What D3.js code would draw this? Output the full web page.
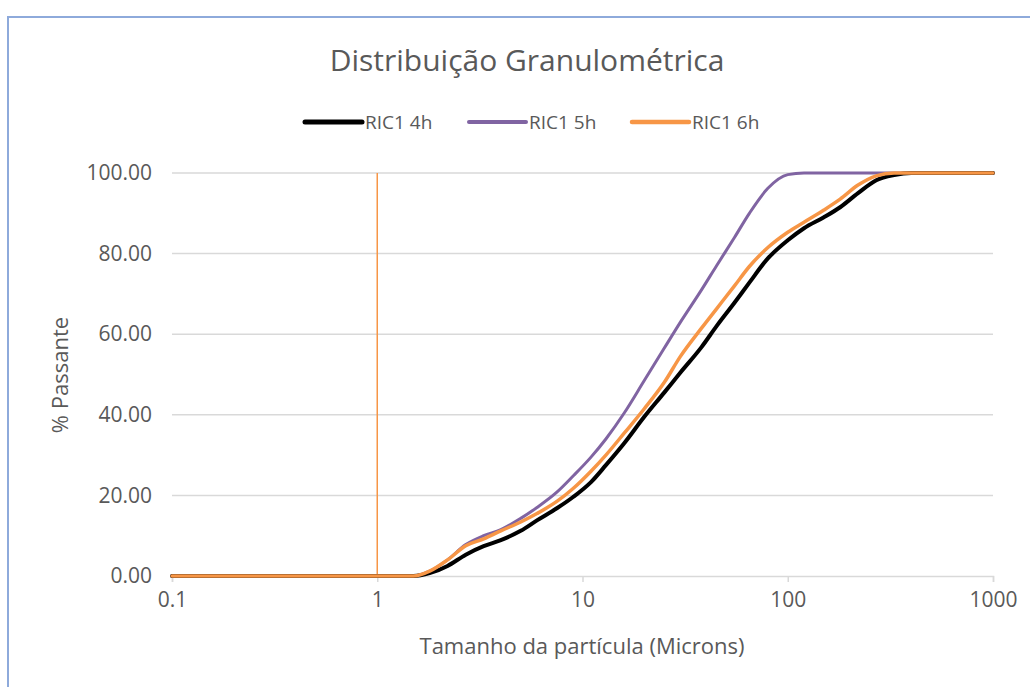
<!DOCTYPE html>
<html>
<head>
<meta charset="utf-8">
<script src="https://cdn.jsdelivr.net/npm/d3@7/dist/d3.min.js"></script>
<style>
  html, body { margin: 0; padding: 0; background: #fff; }
  svg { display: block; font-family: "Open Sans", "Noto Sans", sans-serif; }
</style>
</head>
<body>
<svg id="chart" width="1030" height="687"></svg>
<script>
// Particle size (microns) at which the cumulative passing curves are sampled
const sizes = [0.1, 0.2, 0.5, 1, 1.5, 1.8, 2.2, 2.7, 3.3, 4, 5, 6, 7.5, 9, 11, 13, 16, 20, 25, 30,
               38, 45, 55, 65, 80, 100, 120, 150, 180, 220, 270, 330, 400, 600, 1000];

// % passing for each sample
const ric1_4h = [0, 0, 0, 0, 0, 0.7, 2.5, 5.3, 7.4, 8.9, 11.2, 13.8, 16.8, 19.6, 23.3, 27.5, 33, 39.5, 45.5, 50.5,
                 56.8, 62, 67.8, 72.8, 78.8, 83.3, 86.3, 89, 91.5, 95, 98.2, 99.5, 100, 100, 100];
const ric1_5h = [0, 0, 0, 0, 0, 1.2, 4, 7.8, 10, 11.5, 14.3, 17, 20.8, 24.8, 29.5, 34, 40.5, 48.5, 56.5, 63,
                 71, 77, 84, 90, 96.2, 99.6, 100, 100, 100, 100, 100, 100, 100, 100, 100];
const ric1_6h = [0, 0, 0, 0, 0, 1.2, 4, 7.5, 9.2, 11.2, 13.4, 15.5, 18.5, 21.7, 26, 30, 35.5, 41.5, 48, 54.5,
                 61.5, 66.3, 72, 76.8, 81.5, 85.3, 87.8, 90.8, 93.5, 97, 99.3, 100, 100, 100, 100];

// Reference marker at 1 micron
const markerX = [1, 1];
const markerY = [0, 100];

const seriesNames = ["RIC1 4h", "RIC1 5h", "RIC1 6h"];
const seriesColors = ["#000000", "#8064A2", "#F79646"];
const seriesWidths = [4, 3, 3.5];

const xTicks = [0.1, 1, 10, 100, 1000];
const xTickLabels = ["0.1", "1", "10", "100", "1000"];
const yTicks = [0, 20, 40, 60, 80, 100];

const svg = d3.select("#chart");
const textColor = "#595959";
const gridColor = "#d9d9d9";

// Chart frame
svg.append("rect")
  .attr("x", 8).attr("y", 17)
  .attr("width", 1040).attr("height", 700)
  .attr("fill", "#fff")
  .attr("stroke", "#8eaadb").attr("stroke-width", 2);

const plotLeft = 172, plotRight = 993, plotTop = 173, plotBottom = 576;

const x = d3.scaleLog().domain([0.1, 1000]).range([plotLeft, plotRight]);
const y = d3.scaleLinear().domain([0, 100]).range([plotBottom, plotTop]);

// Horizontal gridlines
svg.append("g")
  .selectAll("line")
  .data(yTicks.filter(d => d > 0))
  .join("line")
  .attr("x1", plotLeft).attr("x2", plotRight)
  .attr("y1", d => y(d)).attr("y2", d => y(d))
  .attr("stroke", gridColor).attr("stroke-width", 1.5);

// Y axis labels
const yAxis = d3.axisLeft(y).tickValues(yTicks).tickFormat(d3.format(".2f")).tickSize(0).tickPadding(20);
const gy = svg.append("g").attr("transform", `translate(${plotLeft},0)`).call(yAxis);
gy.select(".domain").remove();
gy.selectAll("text")
  .attr("fill", textColor)
  .style("font-size", "21px")
  .style("font-family", "'Open Sans', sans-serif");

// X axis
const xAxis = d3.axisBottom(x).tickValues(xTicks)
  .tickFormat((d, i) => xTickLabels[i]).tickSize(6).tickPadding(10);
const gx = svg.append("g").attr("transform", `translate(0,${plotBottom})`).call(xAxis);
gx.select(".domain").attr("stroke", gridColor).attr("stroke-width", 1.5);
gx.selectAll(".tick line").attr("stroke", gridColor).attr("stroke-width", 1.5);
gx.selectAll("text")
  .attr("fill", textColor)
  .style("font-size", "21px")
  .style("font-family", "'Open Sans', sans-serif");

// Vertical marker at 1 micron
svg.append("line")
  .attr("x1", x(markerX[0])).attr("x2", x(markerX[1]))
  .attr("y1", y(markerY[0])).attr("y2", y(markerY[1]))
  .attr("stroke", "#F79646").attr("stroke-width", 1.5);

// Curves
const seriesData = [ric1_4h, ric1_5h, ric1_6h];
const line = d3.line()
  .x((d, i) => x(sizes[i]))
  .y(d => y(d))
  .curve(d3.curveMonotoneX);

// purple first, then black, orange on top
[1, 0, 2].forEach(k => {
  svg.append("path")
    .datum(seriesData[k])
    .attr("d", line)
    .attr("fill", "none")
    .attr("stroke", seriesColors[k])
    .attr("stroke-width", seriesWidths[k])
    .attr("stroke-linejoin", "round")
    .attr("stroke-linecap", "round");
});

// Title
svg.append("text")
  .attr("x", 527).attr("y", 71)
  .attr("text-anchor", "middle")
  .attr("fill", textColor)
  .style("font-size", "30px")
  .text("Distribuição Granulométrica");

// Legend
const legendX = [305, 469, 632];
const legend = svg.append("g");
seriesNames.forEach((name, i) => {
  legend.append("line")
    .attr("x1", legendX[i]).attr("x2", legendX[i] + 57)
    .attr("y1", 122).attr("y2", 122)
    .attr("stroke", seriesColors[i]).attr("stroke-width", seriesWidths[i] + 1)
    .attr("stroke-linecap", "round");
  legend.append("text")
    .attr("x", legendX[i] + 60).attr("y", 129)
    .attr("fill", textColor)
    .style("font-size", "19px")
    .text(name);
});

// Axis titles
svg.append("text")
  .attr("transform", `translate(68,375) rotate(-90)`)
  .attr("text-anchor", "middle")
  .attr("fill", textColor)
  .style("font-size", "22px")
  .text("% Passante");

svg.append("text")
  .attr("x", 582).attr("y", 654)
  .attr("text-anchor", "middle")
  .attr("fill", textColor)
  .style("font-size", "22px")
  .text("Tamanho da partícula (Microns)");
</script>
</body>
</html>
